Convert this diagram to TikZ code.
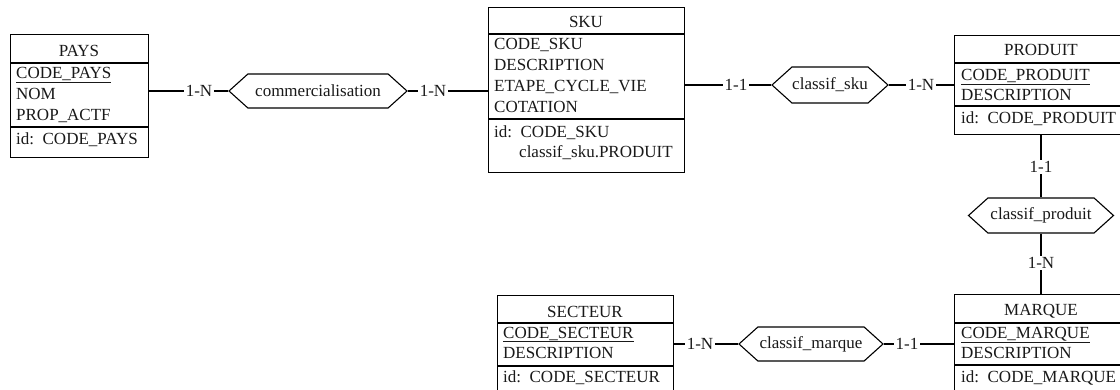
\documentclass[tikz,border=0pt]{standalone}
\usepackage{fontspec}
\setmainfont{Liberation Serif}
\usetikzlibrary{shapes.symbols}
\begin{document}
\begin{tikzpicture}[x=1pt,y=-1pt,
  every node/.style={font=\fontsize{17}{20}\selectfont, text=black!90},
  entity/.style={draw, line width=1.1pt, anchor=north west, inner sep=0pt},
  sepline/.style={line width=1.1pt},
  title/.style={anchor=base, inner sep=0pt},
  attr/.style={anchor=base west, inner sep=0pt},
  rel/.style={draw, line width=1.1pt, signal, signal to=west and east, signal pointer angle=84, inner sep=0pt},
  card/.style={inner sep=1.5pt},
  link/.style={line width=1.1pt}]
\useasboundingbox (0,0) rectangle (1120,390);
\fill[white] (0,0) rectangle (1120,390);
\clip (0,0) rectangle (1120,390);

% PAYS
\node[entity, minimum width=138pt, minimum height=123pt] (pays) at (10,34) {};
\draw[sepline] (pays.west |- 0,63) -- (pays.east |- 0,63);
\draw[sepline] (pays.west |- 0,127) -- (pays.east |- 0,127);
\node[title] (paysT) at (79,57) {PAYS};
\node[attr] (paysA1) at (16,79) {\underline{CODE\_PAYS}};
\node[attr] (paysA2) at (16,100) {NOM};
\node[attr] (paysA3) at (16,121) {PROP\_ACTF};
\node[attr] (paysI) at (16,145) {id:\, CODE\_PAYS};

% SKU
\node[entity, minimum width=196pt, minimum height=165pt] (sku) at (488,7) {};
\draw[sepline] (sku.west |- 0,34) -- (sku.east |- 0,34);
\draw[sepline] (sku.west |- 0,119) -- (sku.east |- 0,119);
\node[title] (skuT) at (586,28) {SKU};
\node[attr] (skuA1) at (494,50) {CODE\_SKU};
\node[attr] (skuA2) at (494,71) {DESCRIPTION};
\node[attr] (skuA3) at (494,92) {ETAPE\_CYCLE\_VIE};
\node[attr] (skuA4) at (494,113) {COTATION};
\node[attr] (skuI1) at (494,138) {id:\, CODE\_SKU};
\node[attr] (skuI2) at (519,158) {classif\_sku.PRODUIT};

% PRODUIT
\node[entity, minimum width=174pt, minimum height=99pt] (produit) at (954,35) {};
\draw[sepline] (produit.west |- 0,63) -- (produit.east |- 0,63);
\draw[sepline] (produit.west |- 0,106) -- (produit.east |- 0,106);
\node[title] (produitT) at (1041,56) {PRODUIT};
\node[attr] (produitA1) at (961,81) {\underline{CODE\_PRODUIT}};
\node[attr] (produitA2) at (961,101) {DESCRIPTION};
\node[attr] (produitI) at (961,124) {id:\, CODE\_PRODUIT};

% MARQUE
\node[entity, minimum width=174pt, minimum height=110pt] (marque) at (954,294) {};
\draw[sepline] (marque.west |- 0,323) -- (marque.east |- 0,323);
\draw[sepline] (marque.west |- 0,365) -- (marque.east |- 0,365);
\node[title] (marqueT) at (1041,316) {MARQUE};
\node[attr] (marqueA1) at (961,338) {\underline{CODE\_MARQUE}};
\node[attr] (marqueA2) at (961,358) {DESCRIPTION};
\node[attr] (marqueI) at (961,382) {id:\, CODE\_MARQUE};

% SECTEUR
\node[entity, minimum width=176pt, minimum height=110pt] (secteur) at (497,295) {};
\draw[sepline] (secteur.west |- 0,323) -- (secteur.east |- 0,323);
\draw[sepline] (secteur.west |- 0,366) -- (secteur.east |- 0,366);
\node[title] (secteurT) at (585,317) {SECTEUR};
\node[attr] (secteurA1) at (503,338) {\underline{CODE\_SECTEUR}};
\node[attr] (secteurA2) at (503,358) {DESCRIPTION};
\node[attr] (secteurI) at (503,382) {id:\, CODE\_SECTEUR};

% relationships
\node[rel, minimum width=178pt, minimum height=34pt] (comm) at (318,91) {commercialisation};
\node[rel, minimum width=116pt, minimum height=36pt] (csku) at (830,85) {classif\_sku};
\node[rel, minimum width=145pt, minimum height=35pt] (cprod) at (1041,215.5) {classif\_produit};
\node[rel, minimum width=144pt, minimum height=34pt] (cmarq) at (811,344) {classif\_marque};

% cardinalities
\node[card] (l1) at (199,91) {1-N};
\node[card] (l2) at (433,91) {1-N};
\node[card] (l3) at (736,85) {1-1};
\node[card] (l4) at (921,85) {1-N};
\node[card] (l5) at (1041,167) {1-1};
\node[card] (l6) at (1041,263) {1-N};
\node[card] (l7) at (700,344) {1-N};
\node[card] (l8) at (907,344) {1-1};

% connectors
\draw[link] (pays.east |- l1) -- (l1.west);
\draw[link] (l1.east) -- (comm.west);
\draw[link] (comm.east) -- (l2.west);
\draw[link] (l2.east) -- (sku.west |- l2);
\draw[link] (sku.east |- l3) -- (l3.west);
\draw[link] (l3.east) -- (csku.west);
\draw[link] (csku.east) -- (l4.west);
\draw[link] (l4.east) -- (produit.west |- l4);
\draw[link] (l5.north |- produit.south) -- (l5.north);
\draw[link] (l5.south) -- (l5.south |- cprod.north);
\draw[link] (l6.north |- cprod.south) -- (l6.north);
\draw[link] (l6.south) -- (l6.south |- marque.north);
\draw[link] (secteur.east |- l7) -- (l7.west);
\draw[link] (l7.east) -- (cmarq.west);
\draw[link] (cmarq.east) -- (l8.west);
\draw[link] (l8.east) -- (marque.west |- l8);
\end{tikzpicture}
\end{document}
